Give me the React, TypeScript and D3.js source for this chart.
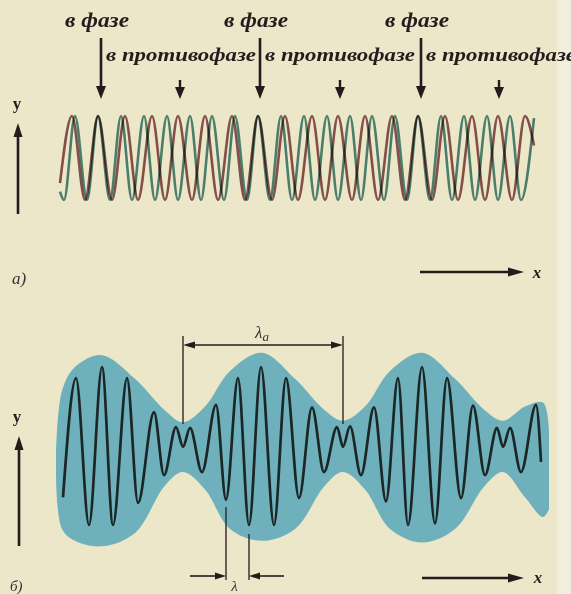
import { useEffect, useRef } from 'react';
import * as d3 from 'd3';

// Panel a: two waves with slightly different wavelengths (x in arbitrary units, 0..48)
const waveAPeaks = [1.2, 3.8, 6.5, 9.2, 11.8, 14.5, 17.2, 19.8, 22.5, 25.2, 27.8, 30.5, 33.2, 35.8, 38.5, 41.2, 43.8, 46.5];
const waveATroughs = [2.5, 5.2, 7.8, 10.5, 13.2, 15.8, 18.5, 21.2, 23.8, 26.5, 29.2, 31.8, 34.5, 37.2, 39.8, 42.5, 45.2];
const waveAEnds = [[0, -0.6], [47.4, 0.3]];
const waveBPeaks = [1.5, 3.8, 6.1, 8.4, 10.7, 13.0, 15.2, 17.5, 19.8, 22.1, 24.4, 26.7, 29.0, 31.2, 33.5, 35.8, 38.1, 40.4, 42.7, 45.0];
const waveBTroughs = [0.4, 2.7, 5.0, 7.2, 9.5, 11.8, 14.1, 16.4, 18.7, 21.0, 23.2, 25.5, 27.8, 30.1, 32.4, 34.7, 37.0, 39.2, 41.5, 43.8, 46.1];
const waveBEnds = [[0, -0.8], [47.4, 0.95]];

// arrow positions (x units)
const inPhase = [4.1, 20.0, 36.1];
const antiPhase = [12.0, 28.0, 43.9];
const inPhaseLabel = 'в фазе';
const antiPhaseLabel = 'в противофазе';

// Panel b: the resulting beat (extrema)
const beatX = [0.3, 1.6, 2.9, 4.2, 5.3, 6.7, 7.8, 9.4, 10.4, 11.6, 12.3, 13.0, 14.2, 15.6, 16.6, 17.8, 18.9, 20.1, 21.4, 22.6, 23.9, 25.2, 26.4, 27.7, 28.3, 29.0, 30.1, 31.4, 32.6, 33.8, 34.8, 36.2, 37.5, 38.7, 40.1, 41.3, 42.5, 43.7, 44.3, 45.0, 46.1, 47.6, 48.1];
const beatY = [-0.65, 0.86, -1, 1, -1, 0.86, -0.72, 0.43, -0.37, 0.24, -0.01, 0.23, -0.33, 0.52, -0.68, 0.86, -1, 1, -1, 0.86, -0.66, 0.49, -0.33, 0.24, -0.01, 0.25, -0.37, 0.49, -0.7, 0.86, -1, 1, -0.98, 0.86, -0.66, 0.51, -0.37, 0.23, -0.01, 0.23, -0.33, 0.52, -0.2];

// envelope band
const envX = [-0.4, 0.2, 1.5, 4.2, 7.5, 10.5, 12.3, 14.5, 17.0, 20.2, 23.5, 26.5, 28.3, 30.5, 33.0, 36.2, 39.5, 42.5, 44.3, 46.5, 48.3, 48.9];
const envTop = [-0.1, 0.7, 1.0, 1.15, 0.85, 0.45, 0.3, 0.5, 0.95, 1.18, 0.85, 0.45, 0.32, 0.5, 0.95, 1.18, 0.85, 0.45, 0.32, 0.5, 0.55, 0.2];
const envBottom = [-0.35, -1.05, -1.2, -1.27, -1.1, -0.5, -0.33, -0.55, -1.05, -1.2, -1.05, -0.5, -0.33, -0.55, -1.05, -1.22, -1.05, -0.5, -0.33, -0.65, -0.9, -0.8];

const beatPeriod = [12.3, 28.3];
const carrierWave = [16.6, 18.9];

const ink = '#231c1c';
const serif = '"Liberation Serif", "DejaVu Serif", serif';

export default function App() {
  const ref = useRef<SVGSVGElement>(null);

  useEffect(() => {
    if (!ref.current) return;
    const svg = d3.select(ref.current);
    svg.selectAll('*').remove();

    const W = 571, H = 594;
    const x = d3.scaleLinear().domain([0, 48]).range([60, 540]);
    const yA = d3.scaleLinear().domain([-1, 1]).range([200, 116]);
    const yB = d3.scaleLinear().domain([-1, 1]).range([525, 367]);

    // paper
    svg.append('rect').attr('width', W).attr('height', H).attr('fill', '#ebe7c8');
    svg.append('rect').attr('x', 557).attr('width', W - 557).attr('height', H).attr('fill', '#f1efdc');

    const arrow = (x1: number, y1: number, x2: number, y2: number, w = 2.2, head = 11, hw = 4.5) => {
      const a = Math.atan2(y2 - y1, x2 - x1);
      const bx = x2 - head * Math.cos(a), by = y2 - head * Math.sin(a);
      svg.append('line')
        .attr('x1', x1).attr('y1', y1).attr('x2', bx).attr('y2', by)
        .attr('stroke', ink).attr('stroke-width', w);
      svg.append('path')
        .attr('d', `M${x2},${y2}L${bx - hw * Math.sin(a)},${by + hw * Math.cos(a)}L${bx + hw * Math.sin(a)},${by - hw * Math.cos(a)}Z`)
        .attr('fill', ink);
    };

    // ---------- panel a ----------
    const wavePts = (peaks: number[], troughs: number[], ends: number[][]) =>
      [...peaks.map(p => [p, 1]), ...troughs.map(t => [t, -1]), ...ends].sort((a, b) => a[0] - b[0]);

    const lineA = d3.line<number[]>()
      .x(d => x(d[0]))
      .y(d => yA(d[1]))
      .curve(d3.curveMonotoneX);

    svg.append('path')
      .attr('d', lineA(wavePts(waveAPeaks, waveATroughs, waveAEnds)))
      .attr('fill', 'none')
      .attr('stroke', '#8e575b')
      .attr('stroke-width', 2.6)
      .style('mix-blend-mode', 'multiply');
    svg.append('path')
      .attr('d', lineA(wavePts(waveBPeaks, waveBTroughs, waveBEnds)))
      .attr('fill', 'none')
      .attr('stroke', '#528a87')
      .attr('stroke-width', 2.6)
      .style('mix-blend-mode', 'multiply');

    inPhase.forEach(v => arrow(x(v), 38, x(v), 99, 2.6, 13, 5));
    antiPhase.forEach(v => arrow(x(v), 80, x(v), 99, 2.4, 12, 5));

    inPhase.forEach(v => {
      svg.append('text')
        .attr('x', x(v) - 36).attr('y', 27)
        .attr('textLength', 64).attr('lengthAdjust', 'spacingAndGlyphs')
        .style('font-family', serif).style('font-style', 'italic').style('font-weight', 'bold')
        .style('font-size', '20px').attr('fill', ink)
        .text(inPhaseLabel);
      svg.append('text')
        .attr('x', x(v) + 5).attr('y', 61)
        .attr('textLength', 150).attr('lengthAdjust', 'spacingAndGlyphs')
        .style('font-family', serif).style('font-style', 'italic').style('font-weight', 'bold')
        .style('font-size', '18px').attr('fill', ink)
        .text(antiPhaseLabel);
    });

    // axes labels panel a
    svg.append('text').attr('x', 17).attr('y', 109).attr('text-anchor', 'middle')
      .style('font-family', serif).style('font-weight', 'bold').style('font-size', '17px').attr('fill', ink).text('y');
    arrow(18, 214, 18, 123, 2.6, 14, 4.5);
    arrow(420, 272, 524, 272, 2.4, 16, 4.5);
    svg.append('text').attr('x', 537).attr('y', 278).attr('text-anchor', 'middle')
      .style('font-family', serif).style('font-style', 'italic').style('font-weight', 'bold').style('font-size', '17px').attr('fill', ink).text('x');
    svg.append('text').attr('x', 12).attr('y', 284)
      .style('font-family', serif).style('font-style', 'italic').style('font-size', '17px').attr('fill', '#3a3030').text('a)');

    // ---------- panel b ----------
    const env = envX.map((v, i) => ({ x: v, t: envTop[i], b: envBottom[i] }));
    svg.append('path')
      .attr('d', d3.area<{ x: number; t: number; b: number }>()
        .x(d => x(d.x))
        .y0(d => yB(d.b))
        .y1(d => yB(d.t))
        .curve(d3.curveCatmullRom)(env))
      .attr('fill', '#6eb1bd');

    const beat = beatX.map((v, i) => [v, beatY[i]]);
    svg.append('path')
      .attr('d', d3.line<number[]>()
        .x(d => x(d[0]))
        .y(d => yB(d[1]))
        .curve(d3.curveMonotoneX)(beat))
      .attr('fill', 'none')
      .attr('stroke', '#1b2625')
      .attr('stroke-width', 2.7)
      .attr('stroke-linejoin', 'round');

    // lambda_a dimension
    const [pa, pb] = beatPeriod.map(v => x(v));
    [pa, pb].forEach(px => {
      svg.append('line').attr('x1', px).attr('x2', px).attr('y1', 336).attr('y2', 424)
        .attr('stroke', '#2e2828').attr('stroke-width', 1.4);
    });
    arrow((pa + pb) / 2, 345, pa, 345, 1.6, 12, 3.5);
    arrow((pa + pb) / 2, 345, pb, 345, 1.6, 12, 3.5);
    const la = svg.append('text').attr('x', (pa + pb) / 2 - 8).attr('y', 338)
      .style('font-family', serif).style('font-style', 'italic').style('font-size', '17px').attr('fill', '#3a3030');
    la.append('tspan').text('λ');
    la.append('tspan').attr('dy', 3).style('font-size', '13px').text('a');

    // lambda dimension
    const [ca, cb] = carrierWave.map(v => x(v));
    svg.append('line').attr('x1', ca).attr('x2', ca).attr('y1', 507).attr('y2', 580)
      .attr('stroke', '#2e2828').attr('stroke-width', 1.4);
    svg.append('line').attr('x1', cb).attr('x2', cb).attr('y1', 534).attr('y2', 580)
      .attr('stroke', '#2e2828').attr('stroke-width', 1.4);
    arrow(190, 576, ca, 576, 1.6, 11, 3.5);
    arrow(284, 576, cb, 576, 1.6, 11, 3.5);
    svg.append('text').attr('x', (ca + cb) / 2 - 3).attr('y', 591).attr('text-anchor', 'middle')
      .style('font-family', serif).style('font-style', 'italic').style('font-size', '15px').attr('fill', '#3a3030').text('λ');

    svg.append('text').attr('x', 17).attr('y', 422).attr('text-anchor', 'middle')
      .style('font-family', serif).style('font-weight', 'bold').style('font-size', '17px').attr('fill', ink).text('y');
    arrow(19, 546, 19, 436, 2.6, 14, 4.5);
    arrow(422, 578, 524, 578, 2.4, 16, 4.5);
    svg.append('text').attr('x', 538).attr('y', 583).attr('text-anchor', 'middle')
      .style('font-family', serif).style('font-style', 'italic').style('font-weight', 'bold').style('font-size', '17px').attr('fill', ink).text('x');
    svg.append('text').attr('x', 10).attr('y', 591)
      .style('font-family', serif).style('font-style', 'italic').style('font-size', '15px').attr('fill', '#3a3030').text('б)');
  }, []);

  return (
    <svg ref={ref} width={571} height={594}
      style={{ position: 'absolute', left: 0, top: 0, display: 'block' }} />
  );
}
